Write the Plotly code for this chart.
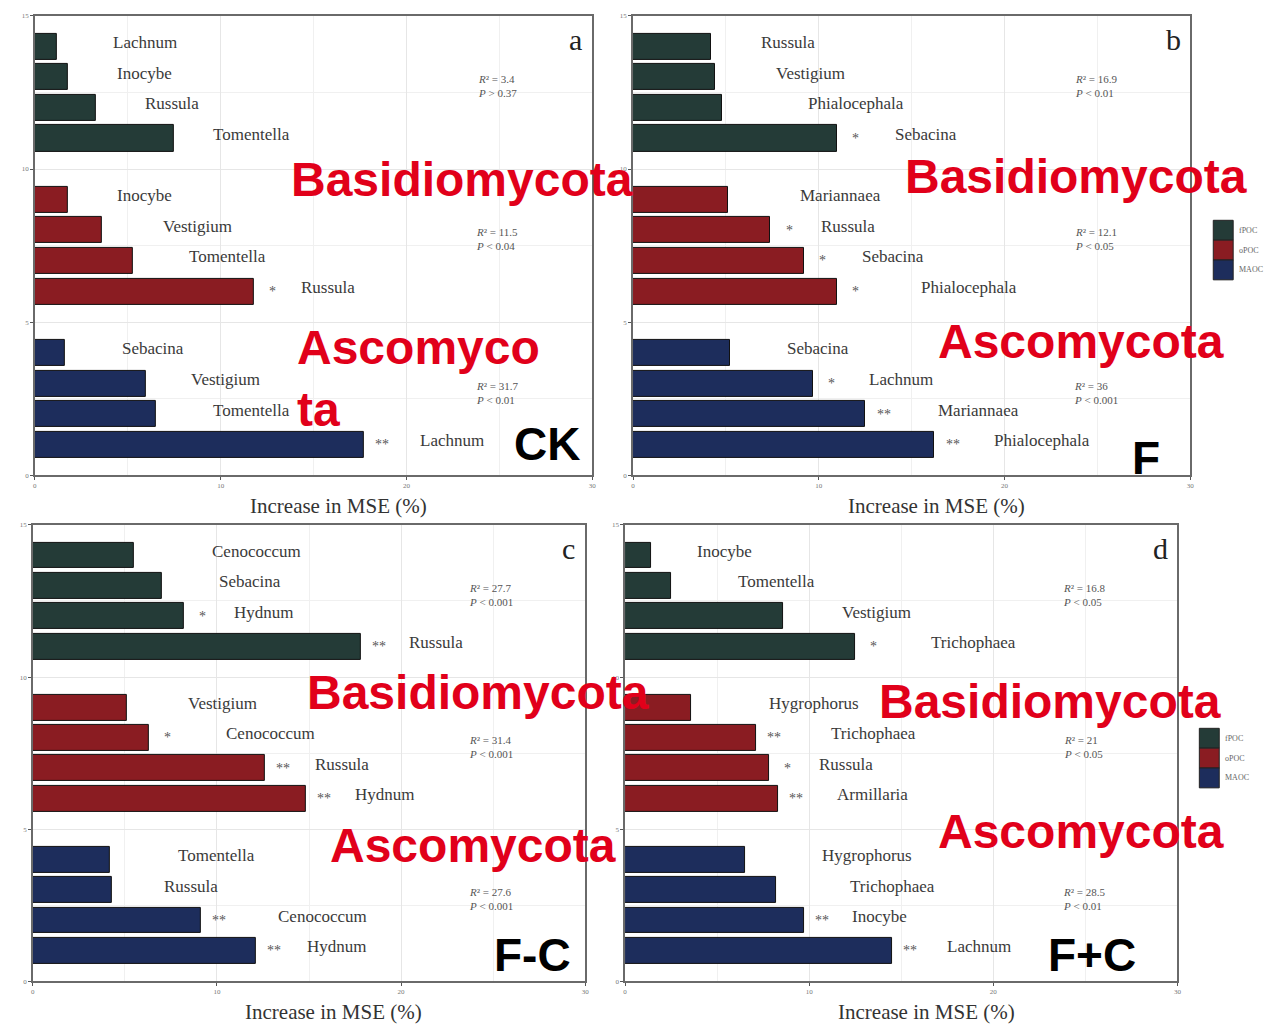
import plotly.graph_objects as go

# ---- data ----------------------------------------------------------------
fractions = ["fPOC", "oPOC", "MAOC"]
colors = {"fPOC": "#243b37", "oPOC": "#8a1c22", "MAOC": "#1d2d5c"}

panels = ["a", "b", "c", "d"]
treatments = ["CK", "F", "F-C", "F+C"]

# genus names per fraction, top to bottom within each block
genera_a = [["Lachnum", "Inocybe", "Russula", "Tomentella"],
            ["Inocybe", "Vestigium", "Tomentella", "Russula"],
            ["Sebacina", "Vestigium", "Tomentella", "Lachnum"]]
mse_a = [[1.2, 1.8, 3.3, 7.5],
         [1.8, 3.6, 5.3, 11.8],
         [1.6, 6.0, 6.5, 17.7]]
sig_a = [["", "", "", ""],
         ["", "", "", "*"],
         ["", "", "", "**"]]
stats_a = ["<i>R</i>² = 3.4<br><i>P</i> > 0.37", "<i>R</i>² = 11.5<br><i>P</i> < 0.04",
           "<i>R</i>² = 31.7<br><i>P</i> < 0.01"]

genera_b = [["Russula", "Vestigium", "Phialocephala", "Sebacina"],
            ["Mariannaea", "Russula", "Sebacina", "Phialocephala"],
            ["Sebacina", "Lachnum", "Mariannaea", "Phialocephala"]]
mse_b = [[4.2, 4.4, 4.8, 11.0],
         [5.1, 7.4, 9.2, 11.0],
         [5.2, 9.7, 12.5, 16.2]]
sig_b = [["", "", "", "*"],
         ["", "*", "*", "*"],
         ["", "*", "**", "**"]]
stats_b = ["<i>R</i>² = 16.9<br><i>P</i> < 0.01", "<i>R</i>² = 12.1<br><i>P</i> < 0.05",
           "<i>R</i>² = 36<br><i>P</i> < 0.001"]

genera_c = [["Cenococcum", "Sebacina", "Hydnum", "Russula"],
            ["Vestigium", "Cenococcum", "Russula", "Hydnum"],
            ["Tomentella", "Russula", "Cenococcum", "Hydnum"]]
mse_c = [[5.5, 7.0, 8.2, 17.8],
         [5.1, 6.3, 12.6, 14.8],
         [4.2, 4.3, 9.1, 12.1]]
sig_c = [["", "", "*", "**"],
         ["", "*", "**", "**"],
         ["", "", "**", "**"]]
stats_c = ["<i>R</i>² = 27.7<br><i>P</i> < 0.001", "<i>R</i>² = 31.4<br><i>P</i> < 0.001",
           "<i>R</i>² = 27.6<br><i>P</i> < 0.001"]

genera_d = [["Inocybe", "Tomentella", "Vestigium", "Trichophaea"],
            ["Hygrophorus", "Trichophaea", "Russula", "Armillaria"],
            ["Hygrophorus", "Trichophaea", "Inocybe", "Lachnum"]]
mse_d = [[1.4, 2.5, 8.6, 12.5],
         [3.6, 7.1, 7.8, 8.3],
         [6.5, 8.2, 9.7, 14.5]]
sig_d = [["", "", "", "*"],
         ["", "**", "*", "**"],
         ["", "", "**", "**"]]
stats_d = ["<i>R</i>² = 16.8<br><i>P</i> < 0.05", "<i>R</i>² = 21<br><i>P</i> < 0.05",
           "<i>R</i>² = 28.5<br><i>P</i> < 0.01"]

x_ticks = [0, 10, 20, 30]
y_ticks = [0, 5, 10, 15]

# ---- layout helpers --------------------------------------------------------
W, H = 1274, 1027

# gap (in % units) between bar end and the left edge of its genus label
label_gap = {
    "a": [[2.9, 2.5, 2.5, 2.0], [2.5, 3.2, 2.9, 2.4], [3.0, 2.3, 3.0, 2.9]],
    "b": [[2.6, 3.2, 4.5, 3.0], [3.8, 2.6, 3.0, 4.4], [3.0, 2.9, 3.8, 3.1]],
    "c": [[4.1, 3.0, 2.6, 2.5], [3.2, 4.1, 2.6, 2.6], [3.6, 2.7, 4.1, 2.7]],
    "d": [[2.4, 3.5, 3.1, 4.0], [4.1, 4.0, 2.6, 3.1], [4.1, 3.9, 2.5, 2.9]],
}

# plot-area boxes in pixels: (left, right, top, bottom)
boxes = {"a": (33, 593, 12, 475), "b": (634, 1194, 12, 475),
         "c": (31, 586, 525, 985), "d": (626, 1181, 525, 985)}

panel_data = {
    "a": (genera_a, mse_a, sig_a, stats_a),
    "b": (genera_b, mse_b, sig_b, stats_b),
    "c": (genera_c, mse_c, sig_c, stats_c),
    "d": (genera_d, mse_d, sig_d, stats_d),
}


def px_x(px):
    return px / W


def px_y(py):
    return 1 - py / H


fig = go.Figure()
annotations = []
shapes = []
serif = "Liberation Serif"
sans = "Liberation Sans"

for k, p in enumerate(panels):
    genera, mse, sig, stats = panel_data[p]
    suffix = "" if k == 0 else str(k + 1)
    xref, yref = "x" + suffix, "y" + suffix
    for g, frac in enumerate(fractions):
        ys = [14 - 5 * g - i for i in range(4)]
        fig.add_trace(go.Bar(
            x=mse[g], y=ys, orientation="h", width=0.85,
            marker=dict(color=colors[frac], line=dict(color="#111111", width=1)),
            name=frac, showlegend=False, xaxis=xref, yaxis=yref,
        ))
        for i in range(4):
            annotations.append(dict(
                x=mse[g][i] + label_gap[p][g][i], y=ys[i], xref=xref, yref=yref,
                text=genera[g][i], showarrow=False, xanchor="left", yanchor="middle",
                yshift=4, font=dict(family=serif, size=17, color="#3a3a3a")))
            if sig[g][i]:
                annotations.append(dict(
                    x=mse[g][i] + 1.0, y=ys[i], xref=xref, yref=yref,
                    text=sig[g][i], showarrow=False, xanchor="center", yanchor="middle",
                    yshift=0, font=dict(family=serif, size=14, color="#555555")))
        annotations.append(dict(
            x=24.9, y=12.7 - 5 * g, xref=xref, yref=yref, text=stats[g],
            showarrow=False, xanchor="center", yanchor="middle", align="left",
            font=dict(family=serif, size=11, color="#555555")))

    left, right, top, bottom = boxes[p]
    fig.update_layout(**{
        "xaxis" + suffix: dict(
            domain=[px_x(left), px_x(right)], range=[0, 30], anchor=yref,
            tickvals=x_ticks, ticks="outside", ticklen=3, tickcolor="#555",
            tickfont=dict(family=serif, size=7, color="#777"),
            showgrid=True, gridcolor="#e6e6e6", gridwidth=1,
            minor=dict(dtick=5, showgrid=True, gridcolor="#f0f0f0"),
            showline=True, linecolor="#6a6a6a", linewidth=1.5, mirror=True,
            zeroline=False, fixedrange=True),
        "yaxis" + suffix: dict(
            domain=[px_y(bottom), px_y(top)], range=[0, 15], anchor=xref,
            tickvals=y_ticks, ticks="outside", ticklen=3, tickcolor="#555",
            tickfont=dict(family=serif, size=7, color="#777"),
            showgrid=True, gridcolor="#e6e6e6", gridwidth=1,
            minor=dict(dtick=2.5, showgrid=True, gridcolor="#f0f0f0"),
            showline=True, linecolor="#6a6a6a", linewidth=1.5, mirror=True,
            zeroline=False, fixedrange=True),
    })

    # panel letter and axis title
    annotations.append(dict(
        x=px_x(right - 17), y=px_y(top + 24), xref="paper", yref="paper", text=p,
        showarrow=False, xanchor="center", yanchor="middle",
        font=dict(family=serif, size=30, color="#222222")))
    annotations.append(dict(
        x=px_x((left + right) / 2 + 25), y=px_y(bottom + 31), xref="paper", yref="paper",
        text="Increase in MSE (%)", showarrow=False, xanchor="center", yanchor="middle",
        font=dict(family=serif, size=21, color="#333333")))

# phylum labels and treatment names
red = "#e1001a"
overlays = [
    ("Basidiomycota", 462, 177), ("Ascomyco<br>ta", 418, 377),
    ("Basidiomycota", 1079, 174), ("Ascomycota", 1084, 340),
    ("Basidiomycota", 478, 694), ("Ascomycota", 473, 848),
    ("Basidiomycota", 1053, 703), ("Ascomycota", 1084, 834),
]
for text, cx, cy in overlays:
    annotations.append(dict(
        x=px_x(cx), y=px_y(cy), xref="paper", yref="paper", text="<b>" + text + "</b>",
        showarrow=False, xanchor="center", yanchor="middle", align="left",
        font=dict(family=sans, size=48, color=red)))

treat_pos = [(548, 443), (1149, 458), (533, 958), (1095, 958)]
for t, (cx, cy) in zip(treatments, treat_pos):
    annotations.append(dict(
        x=px_x(cx), y=px_y(cy), xref="paper", yref="paper", text="<b>" + t + "</b>",
        showarrow=False, xanchor="center", yanchor="middle",
        font=dict(family=sans, size=46, color="#000000")))

# colour keys beside panels b and d
for kx, ky in [(1217, 218), (1203, 730)]:
    for g, frac in enumerate(fractions):
        y0 = ky + 20 * g
        shapes.append(dict(
            type="rect", xref="paper", yref="paper",
            x0=px_x(kx), x1=px_x(kx + 20), y0=px_y(y0 + 20), y1=px_y(y0),
            fillcolor=colors[frac], line=dict(color="#222222", width=1)))
        annotations.append(dict(
            x=px_x(kx + 24), y=px_y(y0 + 10), xref="paper", yref="paper",
            text=frac, showarrow=False, xanchor="left", yanchor="middle",
            font=dict(family=serif, size=8, color="#666666")))

fig.update_layout(
    width=W, height=H, autosize=False,
    margin=dict(l=0, r=0, t=0, b=0),
    paper_bgcolor="white", plot_bgcolor="white",
    barmode="overlay", bargap=0,
    annotations=annotations, shapes=shapes,
)

fig.write_html("out.html")
